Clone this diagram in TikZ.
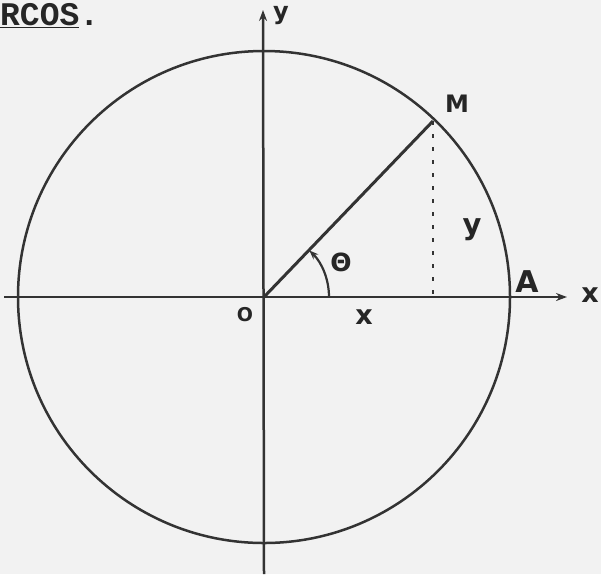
\documentclass[tikz,border=0pt]{standalone}
\usepackage{fontspec}
\newfontfamily\monofnt{Liberation Mono}
\newfontfamily\handfnt{DejaVu Sans}
\usetikzlibrary{arrows.meta}
\begin{document}
\begin{tikzpicture}[x=1pt,y=-1pt,
  ink/.style={draw=black!80, line width=2.5pt},
  lbl/.style={inner sep=0pt, text=black!85},
  fs/.style={font=\handfnt\bfseries\fontsize{#1}{#1}\selectfont}]
\fill[black!5] (0,0) rectangle (601,574);
\useasboundingbox (0,0) rectangle (601,574);
\coordinate (O) at (264,297);
\coordinate (xl) at (4,297);
\coordinate (xr) at (567,297);
\coordinate (yt) at (263,10);
\coordinate (yb) at (264,574);
\coordinate (M) at (433,121);
\coordinate (P) at (433,297);
\coordinate (T) at (329,297);
\draw[ink] (O) circle[radius=246];
\draw[ink, -{Stealth[length=11pt,width=8pt]}] (xl) -- (xr);
\draw[ink, -{Stealth[length=11pt,width=8pt]}] (yb) -- (yt);
\draw[ink, line width=3pt] (O) -- (M);
\draw[ink, dash pattern=on 4pt off 9pt] (M) -- (P);
\draw[ink, line width=2.2pt, -{Stealth[length=9pt,width=7pt]}] (T) arc[start angle=0, end angle=-45.6, radius=65];
\node[anchor=base west, inner sep=0pt, text=black!85, font=\monofnt\bfseries\fontsize{33}{33}\selectfont] (title) at (0,25) {\underline{RCOS}.};
\node[lbl, fs=24] (ylab) at (281,16) {y};
\node[lbl, fs=24] (Mlab) at (457,104) {M};
\node[lbl, fs=29] (ylab2) at (472,230) {y};
\node[lbl, fs=30] (Alab) at (527,282) {A};
\node[lbl, fs=27] (xlab) at (590,295) {x};
\node[lbl, fs=19] (Olab) at (245,315) {O};
\node[lbl, fs=27] (xlab2) at (364,317) {x};
\node[lbl, fs=25] (th) at (341,262) {Θ};
\end{tikzpicture}
\end{document}
